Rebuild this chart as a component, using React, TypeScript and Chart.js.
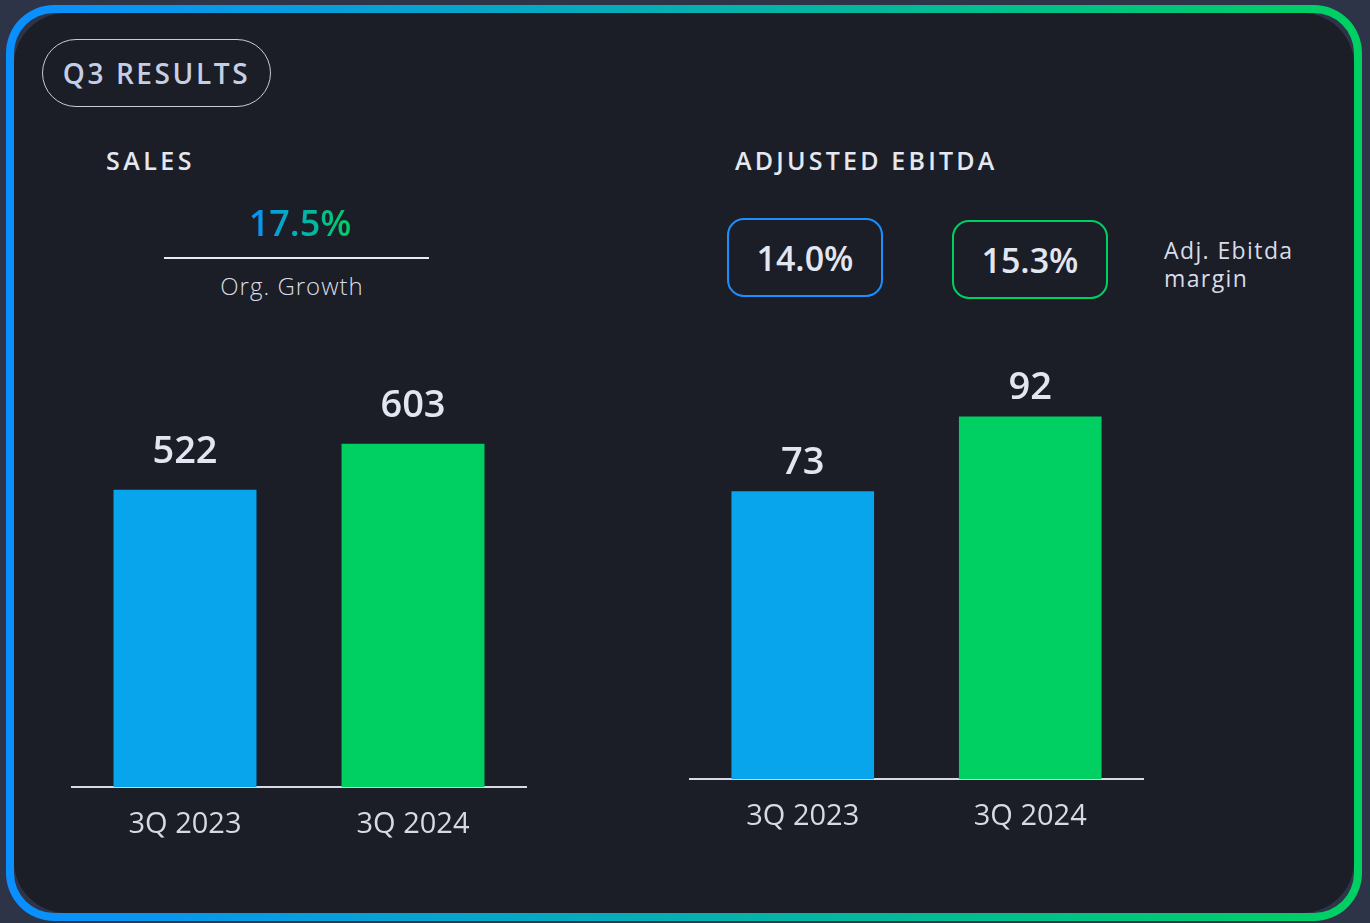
import React, { useEffect, useRef } from "react";
import { Chart, registerables } from "chart.js";

Chart.register(...registerables);

const categories = ["3Q 2023", "3Q 2024"];
const salesValues = [522, 603];
const ebitdaValues = [73, 92];
const marginLabels = ["14.0%", "15.3%"];
const growthLabel = "17.5%";
const barColors = ["#08a4ec", "#00d062"];

const FONT = "'Open Sans', 'Noto Sans', sans-serif";

const valueLabelPlugin = {
  id: "valueLabels",
  afterDatasetsDraw(chart: any, _args: any, opts: any) {
    const ctx = chart.ctx;
    const meta = chart.getDatasetMeta(0);
    const data = chart.data.datasets[0].data;
    ctx.save();
    ctx.fillStyle = "#e2e6f0";
    ctx.font = `600 38px ${FONT}`;
    ctx.textAlign = "center";
    ctx.textBaseline = "alphabetic";
    meta.data.forEach((el: any, i: number) => {
      ctx.fillText(String(data[i]), el.x, el.y - (opts.offset || 20));
    });
    ctx.restore();
  },
};

function BarChart({ values, max, offset }: { values: number[]; max: number; offset: number }) {
  const ref = useRef<HTMLCanvasElement | null>(null);
  useEffect(() => {
    if (!ref.current) return;
    const chart = new Chart(ref.current, {
      type: "bar",
      data: {
        labels: categories,
        datasets: [
          {
            data: values,
            backgroundColor: barColors,
            borderWidth: 0,
            categoryPercentage: 1,
            barPercentage: 0.627,
          },
        ],
      },
      options: {
        animation: false,
        responsive: false,
        maintainAspectRatio: false,
        layout: { padding: 0 },
        plugins: {
          legend: { display: false },
          tooltip: { enabled: false },
          valueLabels: { offset },
        } as any,
        scales: {
          x: {
            grid: { display: false, drawTicks: false },
            border: { display: true, color: "#d6dae4", width: 2 },
            ticks: {
              color: "#d6dae4",
              font: { family: FONT, size: 29, weight: 400 as any, lineHeight: 1.2 },
              padding: 20,
            },
          },
          y: { display: false, min: 0, max },
        },
      },
      plugins: [valueLabelPlugin],
    });
    return () => chart.destroy();
  }, []);
  return <canvas ref={ref} style={{ display: "block", width: "100%", height: "100%" }} />;
}

function abs(left: number, top: number, extra: React.CSSProperties = {}): React.CSSProperties {
  return { position: "absolute", left, top, ...extra };
}

export default function App() {
  const textBase: React.CSSProperties = { fontFamily: FONT, margin: 0, whiteSpace: "nowrap" };
  return (
    <div style={{ position: "absolute", left: 0, top: 0, width: 1370, height: 923, background: "#2d3448", overflow: "hidden" }}>
      <div
        style={{
          position: "absolute",
          left: 6,
          top: 5,
          width: 1356,
          height: 916,
          boxSizing: "border-box",
          border: "8px solid transparent",
          borderRadius: 48,
          background: "linear-gradient(#2d3448, #2d3448) padding-box, linear-gradient(90deg, #0a8fff, #00d062) border-box",
        }}
      >
        <div style={{ position: "absolute", inset: 0, background: "#1b1d27", borderRadius: 52 }} />
      </div>

      {/* Pill */}
      <div
        style={abs(42, 39, {
          width: 229,
          height: 68,
          boxSizing: "border-box",
          border: "1.5px solid #c8ccd6",
          borderRadius: 34,
          display: "flex",
          alignItems: "center",
          justifyContent: "center",
        })}
      >
        <span style={{ ...textBase, color: "#c5cfe4", fontSize: 28, fontWeight: 600, letterSpacing: 2.6 }}>Q3 RESULTS</span>
      </div>

      <div style={abs(106, 143, { ...textBase, color: "#e4e8f0", fontSize: 25, fontWeight: 600, letterSpacing: 3.5, lineHeight: "34px" })}>SALES</div>
      <div style={abs(735, 143, { ...textBase, color: "#e4e8f0", fontSize: 25, fontWeight: 600, letterSpacing: 3.2, lineHeight: "34px" })}>ADJUSTED EBITDA</div>

      <div style={abs(164, 201, { width: 265, textAlign: "center" })}>
        <span
          style={{
            ...textBase,
            fontSize: 36,
            fontWeight: 600,
            lineHeight: "44px",
            background: "linear-gradient(90deg, #0a8fff, #00d062)",
            WebkitBackgroundClip: "text",
            backgroundClip: "text",
            color: "transparent",
            display: "inline-block",
            marginLeft: 7,
          }}
        >
          {growthLabel}
        </span>
      </div>
      <div style={abs(164, 257, { width: 265, height: 1.5, background: "#e8ebf2" })} />
      <div style={abs(164, 270, { ...textBase, width: 256, textAlign: "center", color: "#d8dce6", fontSize: 24, fontWeight: 300, letterSpacing: 1, lineHeight: "32px" })}>Org. Growth</div>

      {marginLabels.map((m, i) => (
        <div
          key={m}
          style={abs(i === 0 ? 727 : 952, i === 0 ? 218 : 220, {
            width: 156,
            height: 79,
            boxSizing: "border-box",
            border: `2.5px solid ${i === 0 ? "#1a90ff" : "#00d062"}`,
            borderRadius: 17,
            display: "flex",
            alignItems: "center",
            justifyContent: "center",
          })}
        >
          <span style={{ ...textBase, color: "#e2e6f0", fontSize: 34, fontWeight: 600 }}>{m}</span>
        </div>
      ))}

      <div style={abs(1164, 236, { ...textBase, color: "#d8dce6", fontSize: 23, fontWeight: 400, letterSpacing: 1.4, lineHeight: "28px" })}>
        Adj. Ebitda
        <br />
        margin
      </div>

      <div style={abs(71, 303, { width: 456, height: 559 })}>
        <BarChart values={salesValues} max={850} offset={27} />
      </div>
      <div style={abs(689, 306, { width: 455, height: 548 })}>
        <BarChart values={ebitdaValues} max={120} offset={17} />
      </div>
    </div>
  );
}
